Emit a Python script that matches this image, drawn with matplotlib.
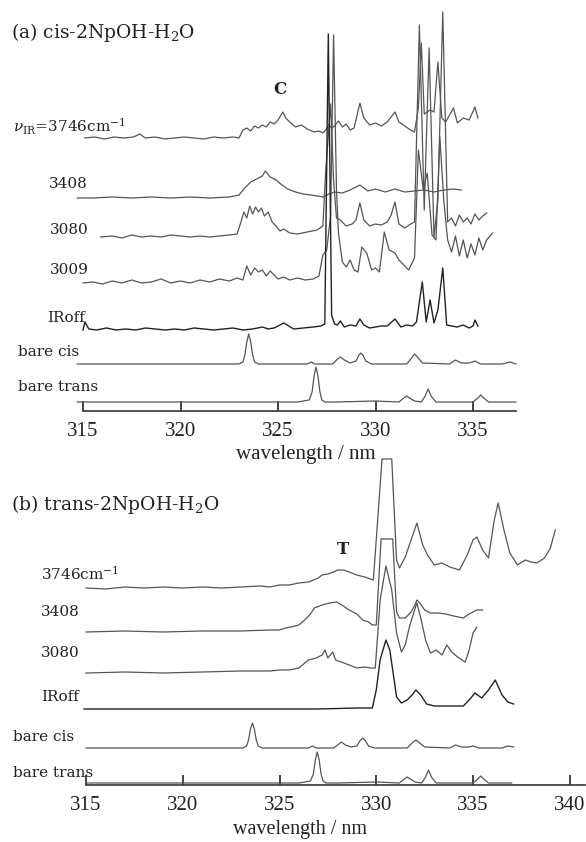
import numpy as np
import matplotlib
matplotlib.use('Agg')
import matplotlib.pyplot as plt

plt.rcParams['font.family'] = 'DejaVu Serif'
plt.rcParams['mathtext.fontset'] = 'dejavuserif'

# ---------------- (a) cis-2NpOH-H2O ----------------
a3746_wl = [315.1, 315.6, 316.1, 316.6, 317.1, 317.6, 317.9, 318.2, 318.7, 319.2,
            319.7, 320.2, 320.7, 321.2, 321.7, 322.2, 322.7, 323.0, 323.2, 323.4,
            323.6, 323.8, 324.0, 324.2, 324.4, 324.6, 324.8, 325.0, 325.25, 325.4,
            325.6, 325.9, 326.2, 326.5, 326.85, 327.1, 327.3, 327.45, 327.6, 327.75,
            327.9, 328.1, 328.3, 328.5, 328.7, 328.9, 329.2, 329.4, 329.7, 330.0,
            330.3, 330.6, 331.0, 331.2, 331.5, 331.8, 332.0, 332.2, 332.35, 332.5,
            332.8, 333.0, 333.2, 333.4, 333.6, 333.8, 334.0, 334.2, 334.5, 334.8,
            335.1, 335.25]
a3746_int = [0, 1, -1, 1, 0, 1, 4, 0, 1, -1,
             0, 1, 0, -1, 1, 0, 1, 0, 8, 10,
             7, 12, 10, 13, 11, 16, 14, 18, 26, 20,
             16, 11, 13, 9, 6, 7, 5, 8, 13, 10,
             12, 17, 11, 14, 8, 10, 35, 20, 13, 15,
             12, 16, 26, 16, 12, 8, 6, 30, 95, 24,
             28, 26, 76, 20, 16, 23, 30, 15, 20, 18,
             31, 20]

a3408_wl = [314.7, 315.5, 316.5, 317.5, 318.5, 319.5, 320.5, 321.5, 322.5, 323.0,
            323.3, 323.6, 323.9, 324.2, 324.35, 324.6, 324.9, 325.2, 325.5, 325.9,
            326.3, 326.7, 327.0, 327.3, 327.6, 327.9, 328.3, 328.7, 329.2, 329.6,
            330.0, 330.5, 331.0, 331.5, 332.0, 332.5, 333.0, 333.5, 334.0, 334.4]
a3408_int = [0, 0, 1, 0, 1, 0, 1, 0, 1, 3,
             10, 16, 19, 22, 27, 21, 18, 13, 9, 6,
             4, 3, 2, 1, 4, 6, 5, 8, 13, 7,
             9, 6, 9, 6, 7, 8, 6, 8, 9, 8]

a3080_wl = [315.9, 316.5, 317.0, 317.5, 318.0, 318.5, 319.0, 319.5, 320.0, 320.5,
            321.0, 321.5, 322.0, 322.5, 322.9, 323.1, 323.25, 323.4, 323.55, 323.7,
            323.85, 324.0, 324.15, 324.3, 324.5, 324.7, 324.9, 325.1, 325.3, 325.6,
            326.0, 326.5, 327.0, 327.3, 327.45, 327.7, 327.85, 328.0, 328.2, 328.5,
            328.8, 329.0, 329.2, 329.4, 329.7, 330.0, 330.3, 330.6, 330.8, 331.0,
            331.2, 331.5, 331.8, 332.0, 332.25, 332.5, 332.75, 333.0, 333.2, 333.45,
            333.7, 333.9, 334.1, 334.3, 334.5, 334.7, 334.9, 335.1, 335.3, 335.5,
            335.7]
a3080_int = [0, 1, -1, 2, 0, 1, 0, 2, 1, 0,
             1, 0, 1, 2, 3, 15, 25, 19, 31, 23,
             30, 25, 29, 21, 25, 15, 11, 6, 8, 4,
             3, 5, 7, 11, 67, 133, 57, 19, 17, 11,
             13, 17, 34, 17, 11, 13, 12, 15, 22, 35,
             13, 9, 13, 15, 212, 27, 189, 0, 37, 225,
             15, 19, 11, 22, 15, 19, 13, 23, 17, 21,
             24]

a3009_wl = [315.0, 315.5, 316.0, 316.5, 317.0, 317.5, 318.0, 318.5, 319.0, 319.5,
            320.0, 320.5, 321.0, 321.5, 322.0, 322.5, 322.9, 323.2, 323.4, 323.6,
            323.8, 324.0, 324.2, 324.4, 324.6, 324.8, 325.0, 325.3, 325.6, 326.0,
            326.4, 326.8, 327.1, 327.3, 327.5, 327.7, 327.85, 328.0, 328.1, 328.3,
            328.5, 328.7, 328.9, 329.1, 329.3, 329.55, 329.8, 330.0, 330.2, 330.45,
            330.7, 331.0, 331.2, 331.5, 331.7, 332.0, 332.2, 332.45, 332.65, 332.9,
            333.1, 333.3, 333.5, 333.7, 333.9, 334.1, 334.3, 334.5, 334.7, 334.9,
            335.1, 335.3, 335.5, 335.7, 336.0]
a3009_int = [0, 1, -1, 2, 0, 3, 0, 1, 4, 0,
             2, 0, 3, 1, 4, 2, 5, 3, 17, 8,
             15, 11, 13, 7, 12, 8, 4, 6, 3, 5,
             3, 4, 7, 28, 33, 68, 248, 93, 50, 21,
             16, 23, 13, 11, 36, 30, 13, 15, 11, 51,
             33, 30, 23, 17, 13, 25, 133, 93, 110, 48,
             43, 146, 83, 43, 31, 47, 27, 43, 25, 39,
             28, 45, 33, 43, 50]

a_off_wl = [315.0, 315.1, 315.3, 315.7, 316.2, 316.7, 317.2, 317.7, 318.2, 318.7,
            319.2, 319.7, 320.2, 320.7, 321.2, 321.7, 322.2, 322.7, 323.2, 323.7,
            324.2, 324.5, 324.8, 325.3, 325.8, 326.3, 326.8, 327.2, 327.4, 327.58,
            327.75, 327.9, 328.05, 328.2, 328.4, 328.7, 329.0, 329.2, 329.4, 329.7,
            330.0, 330.3, 330.6, 331.0, 331.3, 331.6, 331.9, 332.1, 332.4, 332.6,
            332.8, 333.0, 333.2, 333.45, 333.65, 333.9, 334.2, 334.5, 334.8, 335.0,
            335.1, 335.25]
a_off_int = [0, 8, 1, 0, 2, 0, 1, 0, 2, 1,
             0, 1, 0, 2, 1, 0, 1, 2, 0, 1,
             3, 1, 2, 7, 1, 2, 3, 4, 6, 296,
             15, 6, 5, 9, 3, 5, 4, 11, 5, 2,
             3, 4, 4, 11, 3, 5, 4, 8, 48, 8,
             30, 7, 20, 62, 5, 4, 3, 5, 2, 4,
             10, 4]

a_cis_wl = [314.7, 317.0, 320.0, 323.0, 323.2, 323.3, 323.4, 323.5, 323.6, 323.7,
            323.8, 324.0, 326.0, 326.5, 326.7, 326.9, 327.8, 328.0, 328.2, 328.4,
            328.7, 329.0, 329.15, 329.25, 329.35, 329.5, 329.8, 331.6, 331.85, 332.0,
            332.15, 332.4, 333.8, 334.1, 334.4, 334.8, 335.1, 335.4, 336.5, 336.9,
            337.2]
a_cis_int = [0, 0, 0, 0, 2, 9, 22, 30, 22, 9,
             2, 0, 0, 0, 2, 0, 0, 4, 7, 4,
             1, 3, 9, 11, 9, 3, 0, 0, 6, 10,
             7, 1, 0, 4, 1, 1, 3, 0, 0, 2,
             0]

a_trans_wl = [314.7, 318.0, 322.0, 326.0, 326.6, 326.75, 326.85, 326.95, 327.05, 327.15,
              327.25, 327.4, 328.0, 330.0, 331.2, 331.45, 331.6, 331.75, 332.0, 332.35,
              332.55, 332.7, 332.85, 333.1, 334.0, 335.0, 335.25, 335.4, 335.55, 335.8,
              337.2]
a_trans_int = [0, 0, 0, 0, 2, 10, 26, 35, 26, 10,
               2, 0, 0, 1, 0, 4, 6, 4, 1, 0,
               6, 13, 6, 0, 0, 0, 4, 7, 4, 0,
               0]

# ---------------- (b) trans-2NpOH-H2O ----------------
b3746_wl = [315.0, 316.0, 317.0, 318.0, 319.0, 320.0, 321.0, 322.0, 323.0, 324.0,
            324.5, 325.0, 325.5, 326.0, 326.5, 327.0, 327.2, 327.5, 327.8, 328.0,
            328.3, 328.6, 329.0, 329.4, 329.85, 330.3, 330.8, 331.05, 331.2, 331.5,
            331.8, 332.1, 332.4, 332.65, 333.0, 333.4, 333.8, 334.3, 334.7, 335.0,
            335.2, 335.5, 335.8, 336.1, 336.3, 336.6, 336.9, 337.3, 337.7, 338.0,
            338.3, 338.7, 339.0, 339.25]
b3746_int = [0, -1, 1, 0, 1, 0, 1, 0, 1, 2,
             1, 3, 3, 5, 6, 10, 13, 14, 16, 18,
             18, 16, 13, 11, 8, 129, 129, 28, 20, 31,
             48, 65, 43, 33, 23, 25, 21, 18, 33, 48,
             51, 38, 30, 68, 85, 58, 35, 23, 28, 26,
             25, 30, 40, 58]

b3408_wl = [315.0, 317.0, 319.0, 321.0, 323.0, 324.5, 325.0, 325.3, 325.6, 326.0,
            326.3, 326.6, 326.8, 327.2, 327.6, 327.95, 328.3, 328.6, 329.0, 329.3,
            329.6, 329.8, 330.0, 330.25, 330.85, 331.05, 331.2, 331.5, 331.8, 332.0,
            332.1, 332.25, 332.5, 332.8, 333.2, 333.6, 334.0, 334.5, 334.8, 335.2,
            335.5]
b3408_int = [0, 1, 0, 1, 1, 2, 2, 4, 5, 7,
             12, 18, 24, 27, 29, 30, 26, 22, 18, 12,
             10, 7, 7, 93, 93, 20, 14, 14, 20, 27,
             32, 29, 22, 19, 19, 18, 16, 14, 18, 22,
             22]

b3080_wl = [315.0, 317.0, 319.0, 321.0, 323.0, 324.5, 325.0, 325.5, 326.0, 326.5,
            326.9, 327.2, 327.35, 327.5, 327.75, 327.9, 328.2, 328.6, 329.0, 329.4,
            329.7, 329.95, 330.2, 330.5, 330.8, 331.05, 331.3, 331.5, 331.7, 331.9,
            332.1, 332.3, 332.55, 332.8, 333.1, 333.4, 333.65, 333.9, 334.2, 334.6,
            334.8, 335.0, 335.2]
b3080_int = [0, 1, 0, 1, 2, 2, 3, 3, 5, 13,
             15, 18, 23, 15, 21, 13, 11, 8, 5, 6,
             5, 5, 73, 107, 83, 40, 21, 28, 45, 58,
             70, 55, 33, 20, 23, 18, 28, 21, 16, 11,
             23, 40, 46]

b_off_wl = [314.9, 317.0, 319.0, 321.0, 323.0, 325.0, 327.0, 329.0, 329.8, 330.0,
            330.2, 330.5, 330.7, 330.85, 331.05, 331.3, 331.6, 331.85, 332.05, 332.3,
            332.6, 333.0, 333.5, 334.0, 334.5, 334.8, 335.1, 335.45, 335.8, 336.15,
            336.5, 336.8, 337.1]
b_off_int = [0, 0, 0, 0, 0, 0, 0, 1, 1, 19,
             49, 69, 59, 39, 12, 6, 9, 14, 19, 14,
             5, 3, 3, 3, 3, 9, 16, 11, 19, 29,
             14, 7, 5]

b_cis_wl = [315.0, 318.0, 321.0, 323.1, 323.3, 323.4, 323.5, 323.6, 323.7, 323.8,
            323.9, 324.1, 326.0, 326.5, 326.7, 326.9, 327.8, 328.0, 328.2, 328.4,
            328.7, 329.0, 329.15, 329.3, 329.45, 329.6, 329.9, 331.6, 331.85, 332.05,
            332.25, 332.5, 333.8, 334.1, 334.4, 334.8, 335.0, 335.3, 336.5, 336.8,
            337.1]
b_cis_int = [0, 0, 0, 0, 2, 8, 19, 25, 19, 8,
             2, 0, 0, 0, 2, 0, 0, 3, 6, 3,
             1, 2, 7, 10, 7, 2, 0, 0, 5, 8,
             5, 1, 0, 3, 1, 1, 2, 0, 0, 2,
             1]

b_trans_wl = [315.0, 318.0, 322.0, 326.0, 326.6, 326.75, 326.85, 326.95, 327.05, 327.15,
              327.25, 327.4, 328.0, 330.0, 331.2, 331.45, 331.6, 331.75, 332.0, 332.35,
              332.55, 332.7, 332.85, 333.1, 334.0, 335.0, 335.25, 335.4, 335.55, 335.8,
              337.0]
b_trans_int = [0, 0, 0, 0, 2, 9, 23, 31, 23, 9,
               2, 0, 0, 1, 0, 4, 6, 4, 1, 0,
               6, 13, 6, 0, 0, 0, 4, 7, 4, 0,
               0]

ticks_a = [315, 320, 325, 330, 335]
ticks_b = [315, 320, 325, 330, 335, 340]

W, H = 586, 842
fig = plt.figure(figsize=(W / 100, H / 100), dpi=100)

GRAY = '#555555'
DARK = '#222222'
TICKFONT = 'Liberation Serif'


def fpos(x, y):
    return x / W, 1 - y / H


def panel(x0, scale, bottom, top, xmax, ticks):
    ax = fig.add_axes([x0 / W, 1 - bottom / H, (xmax - 315) * scale / W,
                       (bottom - top) / H])
    ax.set_xlim(315, xmax)
    ax.set_ylim(0, bottom - top)
    for s in ['top', 'left', 'right']:
        ax.spines[s].set_visible(False)
    ax.spines['bottom'].set_linewidth(1.2)
    ax.spines['bottom'].set_color('#333333')
    ax.yaxis.set_visible(False)
    ax.set_xticks(ticks)
    ax.tick_params(axis='x', direction='in', length=7, width=1.2,
                   labelsize=15, pad=8, colors='#222222')
    for lab in ax.get_xticklabels():
        lab.set_fontfamily(TICKFONT)
    ax.patch.set_alpha(0)
    return ax


def trace(ax, wl, inten, offset, color=GRAY, lw=0.9):
    ax.plot(wl, np.asarray(inten, float) + offset, color=color, lw=lw,
            clip_on=False)


ax_a = panel(83, 19.5, 410.5, 0, 337.2, ticks_a)
trace(ax_a, a3746_wl, a3746_int, 272.5)
trace(ax_a, a3408_wl, a3408_int, 212.5)
trace(ax_a, a3080_wl, a3080_int, 173.5)
trace(ax_a, a3009_wl, a3009_int, 127.5)
trace(ax_a, a_off_wl, a_off_int, 80.5, DARK, 1.0)
trace(ax_a, a_cis_wl, a_cis_int, 46.5)
trace(ax_a, a_trans_wl, a_trans_int, 8.5)

ax_b = panel(86, 19.35, 785, 440, 340.8, ticks_b)
trace(ax_b, b3746_wl, b3746_int, 197)
trace(ax_b, b3408_wl, b3408_int, 153)
trace(ax_b, b3080_wl, b3080_int, 112)
trace(ax_b, b_off_wl, b_off_int, 76, DARK, 1.0)
trace(ax_b, b_cis_wl, b_cis_int, 37)
trace(ax_b, b_trans_wl, b_trans_int, 2)

txt = dict(color='#222222', va='center', ha='left')
fig.text(*fpos(11, 33), '(a) cis-2NpOH-H$_2$O', fontsize=13.5, **txt)
fig.text(*fpos(273, 90), 'C', fontsize=12, fontweight='bold', **txt)
fig.text(*fpos(13, 127), r'$\nu_{\rm IR}$=3746cm$^{-1}$', fontsize=11, **txt)
fig.text(*fpos(49, 184), '3408', fontsize=11, **txt)
fig.text(*fpos(50, 230), '3080', fontsize=11, **txt)
fig.text(*fpos(50, 270), '3009', fontsize=11, **txt)
fig.text(*fpos(47, 318), 'IRoff', fontsize=11, **txt)
fig.text(*fpos(18, 352), 'bare cis', fontsize=11, **txt)
fig.text(*fpos(18, 387), 'bare trans', fontsize=11, **txt)
fig.text(*fpos(306, 455), 'wavelength / nm', fontsize=15, family=TICKFONT,
         color='#222222', va='center', ha='center')

fig.text(*fpos(11, 505), '(b) trans-2NpOH-H$_2$O', fontsize=13.5, **txt)
fig.text(*fpos(337, 550), 'T', fontsize=12, fontweight='bold', **txt)
fig.text(*fpos(41, 574), '3746cm$^{-1}$', fontsize=11, **txt)
fig.text(*fpos(41, 612), '3408', fontsize=11, **txt)
fig.text(*fpos(41, 653), '3080', fontsize=11, **txt)
fig.text(*fpos(41, 697), 'IRoff', fontsize=11, **txt)
fig.text(*fpos(13, 737), 'bare cis', fontsize=11, **txt)
fig.text(*fpos(13, 773), 'bare trans', fontsize=11, **txt)
fig.text(*fpos(300, 839), 'wavelength / nm', fontsize=14.5, family=TICKFONT,
         color='#222222', va='bottom', ha='center')

fig.savefig('out.png', dpi=100, facecolor='white')
